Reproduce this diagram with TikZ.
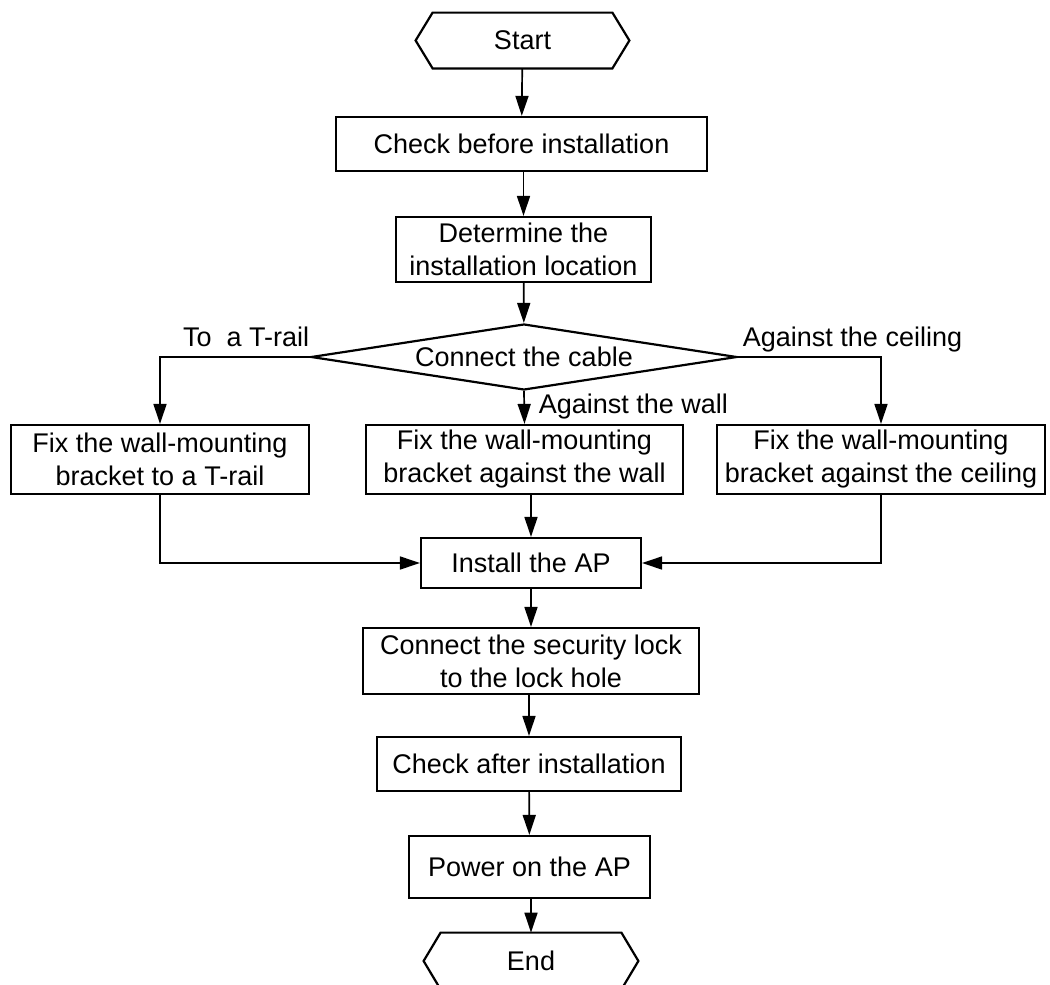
\documentclass[tikz,border=0pt]{standalone}
\usepackage{fontspec}
\setmainfont{Liberation Sans}
\usetikzlibrary{arrows.meta,shapes.geometric}

\tikzset{
  box/.style={draw, line width=1.1pt, inner sep=0pt, align=center},
  hexa/.style={inner sep=0pt},
  decision/.style={draw, diamond, line width=1.1pt, inner sep=0pt, aspect=6.5},
  line/.style={line width=0.85pt, -{Triangle[length=10pt,width=6.5pt]}},
}

\begin{document}
\begin{tikzpicture}[x=0.5pt, y=-0.5pt, font=\fontsize{13.5}{16.5}\selectfont]
			\useasboundingbox (0,0) rectangle (1050,985);
			
			% Start / End
			\node[hexa, minimum width=89.5pt, minimum height=27.5pt] (start) at (522.5,40.5) {Start};
			\draw[line width=1.1pt] ([xshift=-8.5pt]start.west) -- (start.north west) -- (start.north east)
			  -- ([xshift=8.5pt]start.east) -- (start.south east) -- (start.south west) -- cycle;
			\node[hexa, minimum width=90pt, minimum height=28pt] (finish) at (531,961) {End};
			\draw[line width=1.1pt] ([xshift=-8.5pt]finish.west) -- (finish.north west) -- (finish.north east)
			  -- ([xshift=8.5pt]finish.east) -- (finish.south east) -- (finish.south west) -- cycle;
			
			% Upper steps
			\node[box, minimum width=185.5pt, minimum height=27pt] (check) at (521.5,144) {Check before installation};
			\node[box, minimum width=127.5pt, minimum height=32.5pt] (locate) at (523.5,249.5) {Determine the\\installation location};
			\node[decision, minimum width=213pt, minimum height=33pt] (cable) at (524,357) {Connect the cable};
			
			% Three mounting ways
			\node[box, minimum width=149pt, minimum height=34.5pt] (trail) at (160,459.5) {Fix the wall-mounting\\bracket to a T-rail};
			\node[box, minimum width=158.5pt, minimum height=34.5pt] (wall) at (524.5,459.5) {Fix the wall-mounting\\bracket against the wall};
			\node[box, minimum width=164pt, minimum height=34.5pt] (ceiling) at (881,459.5) {Fix the wall-mounting\\bracket against the ceiling};
			
			% Lower steps
			\node[box, minimum width=110pt, minimum height=25pt] (install) at (531,563) {Install the AP};
			\node[box, minimum width=168pt, minimum height=33pt] (lock) at (531,661) {Connect the security lock\\to the lock hole};
			\node[box, minimum width=152pt, minimum height=27pt] (after) at (529,764) {Check after installation};
			\node[box, minimum width=120.5pt, minimum height=31pt] (power) at (529.5,867) {Power on the AP};
			
			% Connectors
			\draw[line] (start) -- (check);
			\draw[line] (check.south -| locate.north) -- (locate.north);
			\draw[line] (locate) -- (cable);
			\draw[line] (cable.west) -| node[pos=0, anchor=base east, yshift=5.5pt, inner sep=0pt] {To\ \ a T-rail} (trail.north);
			\draw[line] (cable.south) -- node[pos=0, anchor=base west, xshift=7pt, yshift=-11pt, inner sep=0pt] {Against the wall} (wall.north);
			\draw[line] (cable.east) -| node[pos=0, anchor=base west, xshift=2pt, yshift=5.5pt, inner sep=0pt] {Against the ceiling} (ceiling.north);
			\draw[line] (trail.south) |- (install.west);
			\draw[line] (ceiling.south) |- (install.east);
			\draw[line] (wall.south -| install.north) -- (install.north);
			\draw[line] (install) -- (lock);
			\draw[line] (lock.south -| after.north) -- (after.north);
			\draw[line] (after) -- (power);
			\draw[line] (power.south -| finish.north) -- (finish.north);
		\end{tikzpicture}
\end{document}
